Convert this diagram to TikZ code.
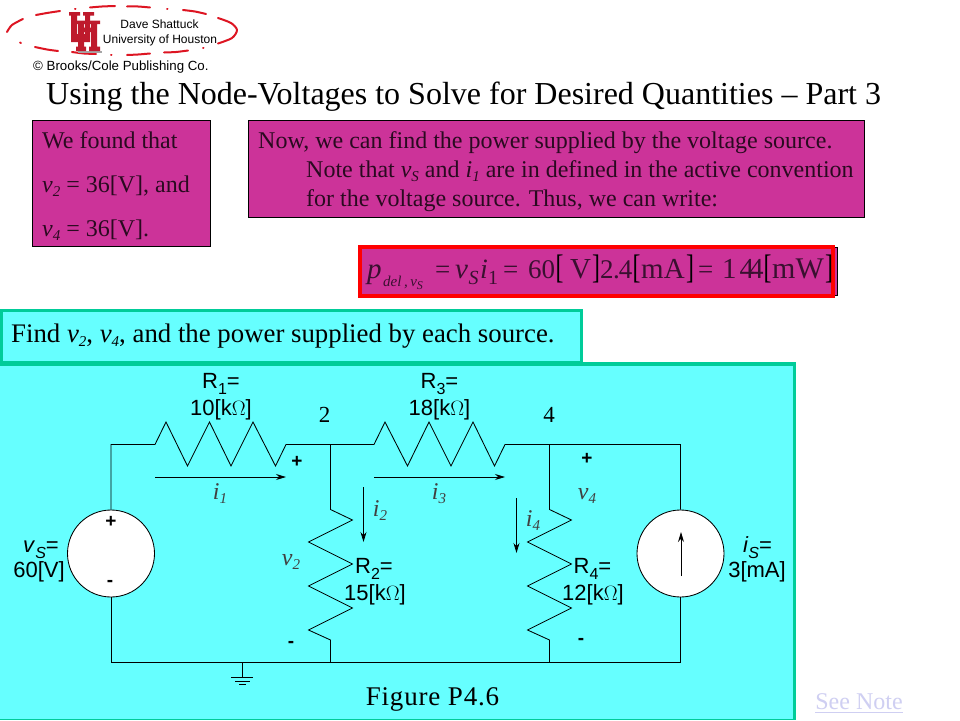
\documentclass[tikz,border=0pt]{standalone}
\usepackage{fontspec}
\usepackage{graphicx}
\setmainfont{Liberation Serif}
\setsansfont{Liberation Sans}
\usetikzlibrary{arrows.meta}
\definecolor{mag}{HTML}{CC3399}
\definecolor{cy}{HTML}{66FFFF}
\definecolor{teal2}{HTML}{00CC99}
\definecolor{uhred}{HTML}{BE1A2C}
\definecolor{lnk}{HTML}{CFCFF2}
\definecolor{dash1}{HTML}{DD1522}
\definecolor{dk}{HTML}{2A0A20}
\definecolor{eqg}{HTML}{3A1030}
\newcommand{\fs}[1]{\fontsize{#1}{#1}\selectfont}
\newcommand{\sbi}[1]{\raisebox{-4pt}{\fs{15}\textit{#1}}}
\newcommand{\sbt}[1]{\raisebox{-6pt}{\fs{16}#1}}
\newcommand{\sbc}[1]{\raisebox{-6pt}{\fs{16}\textit{#1}}}
\newcommand{\narrowbr}[1]{\scalebox{0.7}[1]{#1}}
\tikzset{
 x=1pt,y=-1pt,
 wire/.style={draw=black,line width=0.85pt,line join=miter},
 txt/.style={inner sep=0pt,anchor=base west,text=dk,font=\rmfamily\fs{24}},
 magbox/.style={draw=black,line width=0.85pt,fill=mag},
 sf/.style={inner sep=0pt,anchor=base,font=\sffamily\fs{22}},
 ital/.style={inner sep=0pt,anchor=base,text=black!75,font=\rmfamily\itshape\fs{24}},
 mark2/.style={inner sep=0pt,anchor=center,font=\sffamily\bfseries\fs{19}},
 arr/.style={draw=black,line width=0.85pt,-{Stealth[length=10pt,width=6pt]}},
 src/.style={circle,draw=black,line width=0.85pt,fill=white,minimum size=87pt,inner sep=0pt},
 logo/.style={draw=dash1,line width=2pt,line cap=round,line join=round},
 eqt/.style={inner sep=0pt,anchor=base west,text=eqg,font=\rmfamily\fs{27}},
 eqb/.style={inner sep=0pt,anchor=base west,text=black,font=\rmfamily\fs{34}},
}
\begin{document}
\begin{tikzpicture}
\useasboundingbox (0,0) rectangle (960,720);
\fill[white] (0,0) rectangle (960,720);
% logo ellipse dashes
\draw[logo] plot[smooth] coordinates {(7,32) (12,25) (23,19)};
\draw[logo] plot[smooth] coordinates {(36,15) (47,13) (60,11)};
\draw[logo] (75,9) -- (75.5,9);
\draw[logo] plot[smooth] coordinates {(90,7.5) (102,6.5) (115,6)};
\draw[logo] plot[smooth] coordinates {(127,6.5) (138,6.5) (150,7.5)};
\draw[logo] (167,9.3) -- (167.5,9.3);
\draw[logo] plot[smooth] coordinates {(183,10) (195,11.5) (206,14)};
\draw[logo] plot[smooth] coordinates {(218,18) (231,23) (237,30) (232,38) (218,43.5)};
\draw[logo] (203,48.3) -- (203.5,48.3);
\draw[logo] plot[smooth] coordinates {(164,52.5) (176,52) (188,50.5)};
\draw[logo] plot[smooth] coordinates {(127,55) (138,54.5) (150,53.5)};
\draw[logo] (111,55) -- (111.5,55);
\draw[logo] plot[smooth] coordinates {(72,52) (84,53.5) (96,54)};
\draw[logo] plot[smooth] coordinates {(35,47) (47,49.5) (58,51)};
\draw[logo] (20,42.5) -- (21,43);
% UH emblem
\fill[black!35] (78,51) rectangle (102,52.5);
\fill[uhred] (69,12) rectangle (80,15.5) (71,12) rectangle (77,38) (83,12) rectangle (94,15.5) (85,12) rectangle (90,38) (71,34) rectangle (90,42);
\fill[uhred] (78,23) rectangle (84,50) (91,23) rectangle (97,50) (76,46.5) rectangle (86,51) (89,46.5) rectangle (100,51) (76,20.5) rectangle (86,24) (89,20.5) rectangle (100,24) (80,27.5) rectangle (95,32);
\node[inner sep=0pt,anchor=base,font=\sffamily\fs{12}] (dave) at (159.5,28) {Dave Shattuck};
\node[inner sep=0pt,anchor=base,font=\sffamily\fs{12}] (uni) at (160,43.5) {University of Houston};
\node[inner sep=0pt,anchor=base west,font=\sffamily\fs{13.3}] (brk) at (33,70) {© Brooks/Cole Publishing Co.};
% title
\node[inner sep=0pt,anchor=base west,font=\rmfamily\fs{32}] (title) at (46,104) {Using the Node-Voltages to Solve for Desired Quantities – Part 3};
% boxes
\path[magbox] (32.5,120.5) rectangle (210.5,246.5);
\node[txt] (f1) at (42,148) {We found that};
\node[txt] (f2) at (42,192) {\textit{v}\sbi{2} = 36[V], and};
\node[txt] (f3) at (42,236) {\textit{v}\sbi{4} = 36[V].};
\path[magbox] (248.5,120.5) rectangle (864.5,217.5);
\node[txt] (n1) at (258,148) {Now, we can find the power supplied by the voltage source.};
\node[txt] (n2) at (306,177) {Note that \textit{v}\sbi{S} and \textit{i}\sbi{1} are in defined in the active convention};
\node[txt] (n3) at (306,206) {for the voltage source.  Thus, we can write:};
% equation
\path[magbox] (361,247.5) rectangle (837.5,295);
\draw[red,line width=3.5pt] (360,247) rectangle (833,296);
\node[eqt,font=\rmfamily\itshape\fs{29}] (e1) at (367,278) {p};
\node[eqt,font=\rmfamily\itshape\fs{15}] (e2) at (383,286) {del\,,\,v\raisebox{-3pt}{\fs{12}S}};
\node[eqt] (e3) at (435,278) {=};
\node[eqt,font=\rmfamily\itshape\fs{29}] (e4) at (455,278) {v};
\node[eqt,font=\rmfamily\itshape\fs{20}] (e5) at (468.5,284) {S};
\node[eqt,font=\rmfamily\itshape\fs{28}] (e6) at (480,278) {i};
\node[eqt,font=\rmfamily\fs{20}] (e7) at (488,284) {1};
\node[eqt] (e8) at (503,278) {=};
\node[eqt] (e9) at (528,278) {60};
\node[eqb] (b1) at (555.5,278) {\narrowbr{[}};
\node[eqt,font=\rmfamily\fs{29}] (e10) at (570,278) {V};
\node[eqb] (b2) at (592,278) {\narrowbr{]}};
\node[eqt] (e11) at (600,278) {2\hspace{-0.5pt}.\hspace{-1pt}4};
\node[eqb] (b3) at (632.5,278) {\narrowbr{[}};
\node[eqt,font=\rmfamily\fs{29}] (e12) at (641,278) {mA};
\node[eqb] (b4) at (686,278) {\narrowbr{]}};
\node[eqt] (e13) at (698,278) {=};
\node[eqt,font=\rmfamily\fs{29}] (e14) at (722,278) {1\hspace{3pt}4\hspace{-5pt}4};
\node[eqb] (b5) at (763.5,278) {\narrowbr{[}};
\node[eqt,font=\rmfamily\fs{30}] (e15) at (772,278) {mW};
\node[eqb] (b6) at (825,278) {\narrowbr{]}};
% panels
\fill[teal2] (0,362) rectangle (796,720);
\fill[cy] (0,365.5) rectangle (792.5,719);
\fill[teal2] (0,309) rectangle (583,366);
\fill[cy] (3,312) rectangle (580,361);
\node[inner sep=0pt,anchor=base west,font=\rmfamily\fs{26.8}] (find) at (11,342) {Find \textit{v}\sbi{2}, \textit{v}\sbi{4}, and the power supplied by each source.};
% circuit
\coordinate (tl) at (111,444.5);
\coordinate (bl) at (111,662);
\coordinate (n2a) at (330.5,444.5);
\coordinate (n4a) at (549.5,444.5);
\coordinate (tr) at (680.5,444.5);
\coordinate (br) at (680.5,662);
\coordinate (n2b) at (330.5,662);
\coordinate (n4b) at (549.5,662);
\coordinate (gnd) at (242.3,662);
\node[src] (vs) at (111,553.5) {};
\node[src] (is) at (680.5,553.5) {};
\draw[wire] (vs.north) -- (tl) -- (155,444.5) -- (166,422) -- (187.5,466) -- (209.5,422) -- (231,466) -- (253,422) -- (275.5,466) -- (286,444.5) -- (n2a) -- (374,444.5) -- (385,422) -- (407.5,466) -- (429,422) -- (451,466) -- (473,422) -- (494.5,466) -- (505,444.5) -- (n4a) -- (tr) -- (is.north);
\draw[wire] (is.south) -- (br) -- (n4b) -- (n2b) -- (bl) -- (vs.south);
\draw[wire] (n2a) -- (330.5,509.5) -- (352.5,520) -- (308.5,542) -- (352.5,564) -- (308.5,586) -- (352.5,608) -- (308.5,630) -- (330.5,640) -- (n2b);
\draw[wire] (n4a) -- (549.5,509.5) -- (571.5,520) -- (527.5,542) -- (571.5,564) -- (527.5,586) -- (571.5,608) -- (527.5,630) -- (549.5,640) -- (n4b);
\draw[wire] (gnd) -- (242.3,677.5) (231,677.5) -- (253,677.5) (235,681) -- (250,681) (239,684.5) -- (246,684.5);
% arrows
\coordinate (a1s) at (155,477); \coordinate (a1e) at (286,477);
\coordinate (a3s) at (374,477); \coordinate (a3e) at (505,477);
\coordinate (a2s) at (363.5,487); \coordinate (a2e) at (363.5,542);
\coordinate (a4s) at (516.5,498); \coordinate (a4e) at (516.5,553);
\coordinate (a5s) at (681,576); \coordinate (a5e) at (681,532);
\draw[arr] (a1s) -- (a1e);
\draw[arr] (a3s) -- (a3e);
\draw[arr] (a2s) -- (a2e);
\draw[arr] (a4s) -- (a4e);
\draw[arr] (a5s) -- (a5e);
% labels
\node[sf] (r1) at (221,388) {R\sbt{1}=};
\node[sf] (r1v) at (221,415) {10[k$\Omega$]};
\node[sf] (r3) at (439.5,388) {R\sbt{3}=};
\node[sf] (r3v) at (439.5,415) {18[k$\Omega$]};
\node[sf] (r2) at (374,573) {R\sbt{2}=};
\node[sf] (r2v) at (375,600) {15[k$\Omega$]};
\node[sf] (r4) at (592.5,573) {R\sbt{4}=};
\node[sf] (r4v) at (593,600) {12[k$\Omega$]};
\node[sf] (vsl) at (41,552) {\textit{v}\sbc{S}=};
\node[sf] (vsv) at (39,577) {60[V]};
\node[sf] (isl) at (757.5,552) {\textit{i}\sbc{S}=};
\node[sf] (isv) at (757,577) {3[mA]};
\node[inner sep=0pt,anchor=base,font=\rmfamily\fs{23}] (l2) at (324.5,422) {2};
\node[inner sep=0pt,anchor=base,font=\rmfamily\fs{23}] (l4) at (549,422) {4};
\node[ital] (i1) at (220,499) {i\sbi{1}};
\node[ital] (i3) at (439,499) {i\sbi{3}};
\node[ital] (i2) at (380,516) {i\sbi{2}};
\node[ital] (i4) at (533,526) {i\sbi{4}};
\node[ital] (v2) at (291,565) {v\sbi{2}};
\node[ital] (v4) at (587,499) {v\sbi{4}};
\node[mark2] (p1) at (297,462) {+};
\node[mark2] (p2) at (111,522) {+};
\node[mark2] (p3) at (587,459) {+};
\node[mark2] (m1) at (110,583) {-};
\node[mark2] (m2) at (291,644) {-};
\node[mark2] (m3) at (581,641) {-};
\node[inner sep=0pt,anchor=base,font=\rmfamily\fs{27}] (fig) at (432.5,705) {\addfontfeature{LetterSpace=3}Figure P4.6};
\node[inner sep=0pt,anchor=base,font=\rmfamily\fs{24},text=lnk] (see) at (859,709) {See Note};
\draw[lnk,line width=0.9pt] (815,712.5) -- (903,712.5);
\end{tikzpicture}
\end{document}
